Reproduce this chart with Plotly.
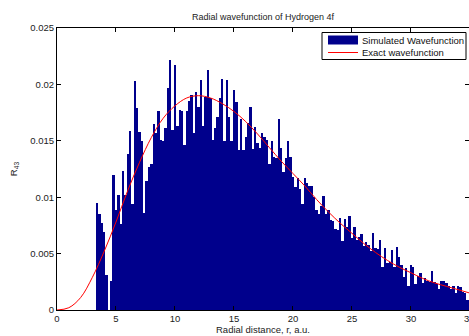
import plotly.graph_objects as go

# Histogram of simulated radial wavefunction (bin heights, bins of 0.2 a.u. starting at r = 3.3)
bin_start = 3.3
bin_width = 0.2
sim_values = [
    0.0095, 0.0085, 0.0077, 0.0069, 0.0031, 0.0000, 0.0026, 0.0120, 0.0089, 0.0102,
    0.0076, 0.0123, 0.0102, 0.0138, 0.0159, 0.0094, 0.0203, 0.0179, 0.0158, 0.0150,
    0.0086, 0.0114, 0.0127, 0.0129, 0.01645, 0.0157, 0.0176, 0.0151, 0.0150, 0.0161,
    0.0197, 0.0222, 0.0160, 0.0217, 0.0163, 0.0177, 0.0176, 0.0146, 0.0176, 0.0185,
    0.0191, 0.0157, 0.0193, 0.0180, 0.0204, 0.0163, 0.0189, 0.0213, 0.0188, 0.0151,
    0.0161, 0.0171, 0.0188, 0.0205, 0.0150, 0.0204, 0.0171, 0.0150, 0.0195, 0.0184,
    0.0142, 0.0169, 0.0142, 0.0153, 0.0166, 0.0180, 0.0143, 0.0162, 0.0148, 0.0144,
    0.0157, 0.0153, 0.0151, 0.0129, 0.0150, 0.0136, 0.0135, 0.0169, 0.0144, 0.0122,
    0.0135, 0.0150, 0.0136, 0.0118, 0.0109, 0.0117, 0.0107, 0.0094, 0.0117, 0.0113,
    0.0110, 0.0110, 0.0100, 0.0089, 0.0085, 0.0092, 0.0101, 0.0085, 0.0089, 0.0080,
    0.0079, 0.0072, 0.0071, 0.0082, 0.0061, 0.0081, 0.0074, 0.0083, 0.0064, 0.0074,
    0.0062, 0.0065, 0.0067, 0.0057, 0.0060, 0.0058, 0.0052, 0.0068, 0.0055, 0.0054,
    0.0062, 0.0038, 0.0055, 0.0042, 0.0043, 0.0053, 0.0038, 0.0056, 0.0047, 0.0040,
    0.0029, 0.0037, 0.0021, 0.0040, 0.0038, 0.0023, 0.0030, 0.0033, 0.0024, 0.0028,
    0.0026, 0.0025, 0.0035, 0.0025, 0.0023, 0.0019, 0.0026, 0.0026, 0.0024, 0.0021,
    0.0019, 0.0021, 0.0015, 0.0021, 0.0020, 0.0016, 0.0015, 0.0009, 0.0019,
]

# Exact wavefunction
exact_r = list(range(0, 36))
exact_values = [
    0.0, 0.0002, 0.0011, 0.0029, 0.0052, 0.0078, 0.0106, 0.0131, 0.0153, 0.0170,
    0.0181, 0.0188, 0.0190, 0.0188, 0.0183, 0.0176, 0.0167, 0.0156, 0.0144, 0.0132,
    0.0121, 0.0110, 0.0098, 0.0087, 0.0077, 0.0068, 0.0059, 0.0051, 0.0044, 0.0038,
    0.0033, 0.0028, 0.0024, 0.0021, 0.0018, 0.0015,
]

series_names = ["Simulated Wavefunction", "Exact wavefunction"]
x_ticks = [0, 5, 10, 15, 20, 25, 30, 35]
y_ticks = [0, 0.005, 0.01, 0.015, 0.02, 0.025]
y_tick_labels = ["0", "0.005", "0.01", "0.015", "0.02", "0.025"]

FONT = "Liberation Sans, Arial, Helvetica, sans-serif"
BAR_COLOR = "#00008C"
LINE_COLOR = "#FF0000"
X_MAX = 34.92

# plot-area geometry in pixels (for placing the hand-drawn legend)
L, T, W, H = 57, 28, 412, 282


def px(xp):
    return (xp - L) / W


def py(yp):
    return (T + H - yp) / H


fig = go.Figure()
fig.add_trace(go.Bar(
    y=sim_values,
    x0=bin_start + bin_width / 2,
    dx=bin_width,
    width=bin_width,
    marker=dict(color=BAR_COLOR, line=dict(width=0)),
    name=series_names[0],
    showlegend=False,
))
fig.add_trace(go.Scatter(
    x=exact_r,
    y=exact_values,
    mode="lines",
    line=dict(color=LINE_COLOR, width=1, shape="spline"),
    name=series_names[1],
    showlegend=False,
))

fig.update_layout(
    width=469,
    height=336,
    margin=dict(l=L, r=0, t=T, b=336 - T - H),
    paper_bgcolor="white",
    plot_bgcolor="white",
    bargap=0,
    font=dict(family=FONT, size=9.5, color="#222222"),
    title=dict(
        text="Radial wavefunction of Hydrogen 4f",
        x=(57 + 469) / 2 / 469,
        xanchor="center",
        y=1 - 17 / 336,
        yanchor="middle",
        font=dict(family=FONT, size=9, color="#222222"),
    ),
    showlegend=False,
)

fig.update_xaxes(
    range=[0, X_MAX],
    tickvals=x_ticks,
    ticktext=[str(t) for t in x_ticks],
    ticks="inside",
    ticklen=4,
    tickcolor="black",
    showline=True,
    linecolor="black",
    linewidth=1,
    mirror="ticks",
    showgrid=False,
    zeroline=False,
    title=dict(text="Radial distance, r, a.u.", standoff=2, font=dict(size=9.5)),
)
fig.update_yaxes(
    range=[0, 0.025],
    tickvals=y_ticks,
    ticktext=y_tick_labels,
    ticks="inside",
    ticklen=4,
    tickcolor="black",
    showline=True,
    linecolor="black",
    linewidth=1,
    mirror="ticks",
    showgrid=False,
    zeroline=False,
    title=dict(text="R<sub>43</sub>", standoff=10, font=dict(size=9.5)),
)

# the "35" tick label sits right at the window edge (partially cut off, as in the original)
fig.add_annotation(
    x=35 / X_MAX, xref="paper", y=0, yref="paper",
    text="35", showarrow=False, xanchor="center", yanchor="top", yshift=-1,
    font=dict(family=FONT, size=9.5, color="#222222"),
)

# MATLAB-style legend box
fig.add_shape(type="rect", xref="paper", yref="paper",
              x0=px(322), x1=px(466), y0=py(59.5), y1=py(32.5),
              line=dict(color="black", width=1), fillcolor="white", layer="above")
fig.add_shape(type="rect", xref="paper", yref="paper",
              x0=px(328), x1=px(358), y0=py(44.5), y1=py(35.5),
              line=dict(width=0), fillcolor=BAR_COLOR, layer="above")
fig.add_shape(type="line", xref="paper", yref="paper",
              x0=px(328), x1=px(358), y0=py(52.5), y1=py(52.5),
              line=dict(color=LINE_COLOR, width=1), layer="above")
for name, ypix in zip(series_names, [40.5, 52.5]):
    fig.add_annotation(
        x=px(360), xref="paper", y=py(ypix), yref="paper",
        text=name, showarrow=False, xanchor="left", yanchor="middle",
        font=dict(family=FONT, size=9.5, color="#111111"),
    )

fig.write_html("out.html")
